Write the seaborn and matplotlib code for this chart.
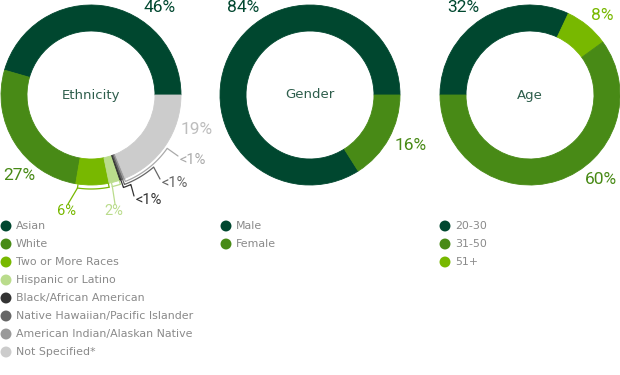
import numpy as np
import pandas as pd
import matplotlib
matplotlib.use("Agg")
import matplotlib.pyplot as plt
import seaborn as sns

# Data
eth_labels = ['Asian', 'White', 'Two or More Races', 'Hispanic or Latino',
              'Black/African American', 'Native Hawaiian/Pacific Islander',
              'American Indian/Alaskan Native', 'Not Specified*']
eth_values = [46, 27, 6, 2, 0.33, 0.33, 0.33, 19]
eth_text = ['46%', '27%', '6%', '2%', '<1%', '<1%', '<1%', '19%']
eth_colors = ['#00472f', '#488a16', '#78b800', '#badc8c',
              '#333333', '#666666', '#999999', '#cccccc']

gender_labels = ['Male', 'Female']
gender_values = [84, 16]
gender_text = ['84%', '16%']
gender_colors = ['#00472f', '#488a16']

age_labels = ['20-30', '31-50', '51+']
age_values = [32, 60, 8]
age_text = ['32%', '60%', '8%']
age_colors = ['#00472f', '#488a16', '#78b800']

sns.set_style("white")
plt.rcParams['font.family'] = ['DejaVu Sans']

W, H = 620, 375
fig = plt.figure(figsize=(6.2, 3.75), dpi=100)
ax = fig.add_axes([0, 0, 1, 1])

R = 90
RING = 26
TITLE_C = '#2e5e4c'


def py(y):
    # pixel row -> data y
    return H - y


def polar(cx, cy, r, deg):
    t = np.deg2rad(deg)
    return cx + r * np.cos(t), py(cy) + r * np.sin(t)


def donut(values, colors, cx, cy, start, counterclock):
    wedges, _ = ax.pie(values, colors=colors, radius=R, center=(cx, py(cy)),
                       startangle=start, counterclock=counterclock,
                       wedgeprops=dict(width=RING, linewidth=0.6))
    for w in wedges:
        w.set_edgecolor(w.get_facecolor())
    return wedges


title_font = dict(ha='center', va='center', fontsize=9.5, color=TITLE_C)

# Ethnicity
ecx, ecy = 91, 95
ew = donut(eth_values, eth_colors, ecx, ecy, 0, True)
ax.text(ecx, py(ecy), 'Ethnicity', **title_font)

# Gender
gcx, gcy = 310, 95
donut(gender_values, gender_colors, gcx, gcy, 0, True)
ax.text(gcx, py(gcy), 'Gender', **title_font)

# Age (drawn clockwise from 9 o'clock: 20-30, 51+, 31-50)
acx, acy = 530, 95
age_order = [0, 2, 1]
donut([age_values[i] for i in age_order], [age_colors[i] for i in age_order],
      acx, acy, 180, False)
ax.text(acx, py(acy), 'Age', **title_font)

# percentage labels
pct_font = dict(fontsize=12.5, family='Roboto', ha='center', va='center')
lbl_pos = {0: (160, 8), 1: (19, 176), 7: (197, 129)}
for i, (x, y) in lbl_pos.items():
    c = eth_colors[i] if i != 7 else '#bdbdbd'
    ax.text(x, py(y), eth_text[i], color=c, **pct_font)
ax.text(243, py(8), gender_text[0], color=gender_colors[0], **pct_font)
ax.text(411, py(146), gender_text[1], color=gender_colors[1], **pct_font)
ax.text(463, py(8), age_text[0], color=age_colors[0], **pct_font)
ax.text(601, py(180), age_text[1], color=age_colors[1], **pct_font)
ax.text(602, py(15), age_text[2], color=age_colors[2], **pct_font)

# brackets for 6% and 2%
small_font = dict(fontsize=10.5, family='Roboto', ha='center', va='center')
for i, (lx, ly) in zip([2, 3], [(67, 211), (114, 211)]):
    w = ew[i]
    a0, a1 = w.theta1 + 1.5, w.theta2 - 0.5
    rb = R + 4
    arc = np.linspace(a0, a1, 30)
    xs, ys = polar(ecx, ecy, rb, arc)
    ax.plot(xs, ys, color=eth_colors[i], lw=0.9)
    for a in (a0, a1):
        x0, y0 = polar(ecx, ecy, R + 0.5, a)
        x1, y1 = polar(ecx, ecy, rb, a)
        ax.plot([x0, x1], [y0, y1], color=eth_colors[i], lw=0.9)
    x1, y1 = polar(ecx, ecy, rb, a0)
    ax.plot([x1, lx + 1], [y1, py(ly - 7)], color=eth_colors[i], lw=0.9)
    ax.text(lx, py(ly), eth_text[i], color=eth_colors[i], **small_font)

# leader lines for the <1% slivers
lead = {4: (R + 8, -66, (136, 200), '#333333'),
        5: (R + 5.5, -49, (162, 183), '#666666'),
        6: (R + 3, -35, (180, 160), '#aaaaaa')}
for i, (rl, aend, (lx, ly), c) in lead.items():
    w = ew[i]
    a0 = (w.theta1 + w.theta2) / 2 - 360
    x0, y0 = polar(ecx, ecy, R, a0)
    arc = np.linspace(a0, aend, 40)
    xs, ys = polar(ecx, ecy, rl, arc)
    xs = np.concatenate([[x0], xs, [lx - 2]])
    ys = np.concatenate([[y0], ys, [py(ly - 4)]])
    ax.plot(xs, ys, color=c, lw=0.9)
    ax.text(lx, py(ly), eth_text[i], color=c, fontsize=10.5, family='Roboto',
            ha='left', va='center')

# legends
rows = []
for labels, colors, mx in [(eth_labels, eth_colors, 6),
                           (gender_labels, gender_colors, 226),
                           (age_labels, age_colors, 445)]:
    for k, (lab, c) in enumerate(zip(labels, colors)):
        rows.append(dict(x=mx, y=py(226 + 18 * k), label=lab, color=c))
leg = pd.DataFrame(rows)
sns.scatterplot(data=leg, x='x', y='y', hue='label',
                palette=dict(zip(leg['label'], leg['color'])),
                s=62, linewidth=0, legend=False, ax=ax)
for _, r in leg.iterrows():
    ax.text(r['x'] + 10, r['y'], r['label'], color='#8a8a8a', fontsize=7.9,
            ha='left', va='center')

ax.set_xlim(0, W)
ax.set_ylim(0, H)
ax.set_aspect('equal')
ax.axis('off')

fig.savefig('out.png', dpi=100, facecolor='white')
